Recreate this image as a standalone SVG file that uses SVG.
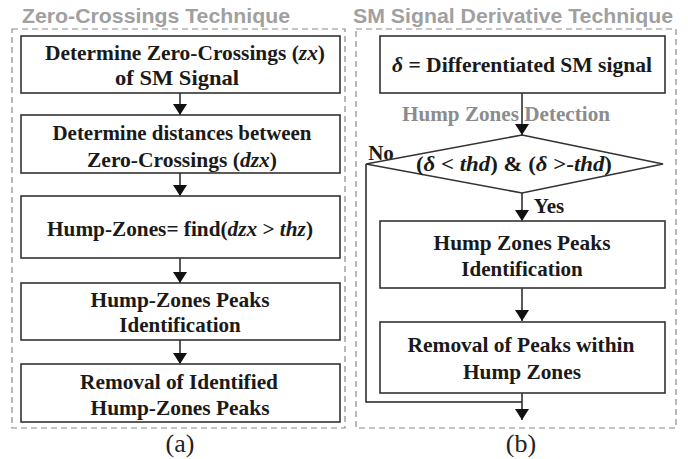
<svg xmlns="http://www.w3.org/2000/svg" width="688" height="459" viewBox="0 0 688 459">
<defs>
<marker id="ah" markerWidth="11" markerHeight="14" refX="11" refY="7" orient="auto" markerUnits="userSpaceOnUse">
<path d="M0,0 L11,7 L0,14 Z" fill="#111"/>
</marker>
<style>
.frame{fill:none;stroke:#8a8a8a;stroke-width:1.2;stroke-dasharray:6 4}
.box{fill:#fff;stroke:#333;stroke-width:1.6}
.t{font-family:"Liberation Serif","Times New Roman",serif;font-weight:bold;font-size:21px;fill:#1a1a1a;text-anchor:middle}
.title{font-family:"Liberation Sans",Arial,sans-serif;font-weight:bold;font-size:19.5px;fill:#a0a0a0}
.gray{font-family:"Liberation Serif","Times New Roman",serif;font-weight:bold;font-size:21px;fill:#8c8c8c}
.lab{font-family:"Liberation Serif","Times New Roman",serif;font-size:26px;fill:#222;text-anchor:middle}
.i{font-style:italic}
.conn line,.conn polyline{stroke:#222;stroke-width:1.5;fill:none}
</style>
</defs>

<rect width="688" height="459" fill="#fff"/>

<g id="frame-a">
<rect class="frame" x="12" y="29" width="333" height="399"/>
<text class="title" x="22" y="23" textLength="268" lengthAdjust="spacingAndGlyphs">Zero-Crossings Technique</text>
<text class="lab" x="180" y="452">(a)</text>
</g>
<g id="frame-b">
<rect class="frame" x="356" y="29" width="320" height="399"/>
<text class="title" x="353" y="23" textLength="320" lengthAdjust="spacingAndGlyphs">SM Signal Derivative Technique</text>
<text class="lab" x="521" y="452">(b)</text>
</g>

<g class="conn" id="connectors">
<line x1="180" y1="93" x2="180" y2="115" marker-end="url(#ah)"/>
<line x1="180" y1="173" x2="180" y2="196" marker-end="url(#ah)"/>
<line x1="180" y1="258" x2="180" y2="283" marker-end="url(#ah)"/>
<line x1="180" y1="340" x2="180" y2="364" marker-end="url(#ah)"/>
<line x1="522" y1="93" x2="522" y2="135" marker-end="url(#ah)"/>
<line x1="522" y1="193" x2="522" y2="221" marker-end="url(#ah)"/>
<line x1="522" y1="288" x2="522" y2="321" marker-end="url(#ah)"/>
<line x1="522" y1="393" x2="522" y2="420" marker-end="url(#ah)"/>
<polyline points="366,164 366,402 522,402"/>
<text class="t" x="381" y="160">No</text>
<text class="t" x="549" y="213">Yes</text>
<text class="gray" x="402" y="121" textLength="208" lengthAdjust="spacingAndGlyphs">Hump Zones Detection</text>
</g>

<g id="a1">
<rect class="box" x="21" y="36" width="319" height="57"/>
<text class="t" x="185" y="60" textLength="280" lengthAdjust="spacingAndGlyphs">Determine Zero-Crossings (<tspan class="i">zx</tspan>)</text>
<text class="t" x="177" y="85" textLength="124" lengthAdjust="spacingAndGlyphs">of SM Signal</text>
</g>
<g id="a2">
<rect class="box" x="21" y="115" width="319" height="58"/>
<text class="t" x="182" y="140" textLength="259" lengthAdjust="spacingAndGlyphs">Determine distances between</text>
<text class="t" x="182" y="167" textLength="190" lengthAdjust="spacingAndGlyphs">Zero-Crossings (<tspan class="i">dzx</tspan>)</text>
</g>
<g id="a3">
<rect class="box" x="21" y="196" width="319" height="62"/>
<text class="t" x="180" y="236" textLength="266" lengthAdjust="spacingAndGlyphs">Hump-Zones= find(<tspan class="i">dzx</tspan> &gt; <tspan class="i">thz</tspan>)</text>
</g>
<g id="a4">
<rect class="box" x="21" y="283" width="319" height="57"/>
<text class="t" x="180" y="307" textLength="179" lengthAdjust="spacingAndGlyphs">Hump-Zones Peaks</text>
<text class="t" x="180" y="332">Identification</text>
</g>
<g id="a5">
<rect class="box" x="21" y="364" width="319" height="58"/>
<text class="t" x="179" y="389" textLength="198" lengthAdjust="spacingAndGlyphs">Removal of Identified</text>
<text class="t" x="180" y="415" textLength="179" lengthAdjust="spacingAndGlyphs">Hump-Zones Peaks</text>
</g>

<g id="b1">
<rect class="box" x="380" y="36" width="285" height="57"/>
<text class="t" x="522" y="72" textLength="260" lengthAdjust="spacingAndGlyphs"><tspan class="i">δ</tspan> = Differentiated SM signal</text>
</g>
<g id="b2">
<polygon class="box" points="522,135 663,164 522,193 366,164"/>
<text class="t" x="514" y="171" textLength="196" lengthAdjust="spacingAndGlyphs">(<tspan class="i">δ</tspan> &lt; <tspan class="i">thd</tspan>) &amp; (<tspan class="i">δ</tspan> &gt;-<tspan class="i">thd</tspan>)</text>
</g>
<g id="b3">
<rect class="box" x="380" y="221" width="285" height="67"/>
<text class="t" x="522" y="250" textLength="177" lengthAdjust="spacingAndGlyphs">Hump Zones Peaks</text>
<text class="t" x="522" y="276">Identification</text>
</g>
<g id="b4">
<rect class="box" x="380" y="322" width="285" height="71"/>
<text class="t" x="521" y="352" textLength="227" lengthAdjust="spacingAndGlyphs">Removal of Peaks within</text>
<text class="t" x="522" y="379" textLength="118" lengthAdjust="spacingAndGlyphs">Hump Zones</text>
</g>
</svg>
